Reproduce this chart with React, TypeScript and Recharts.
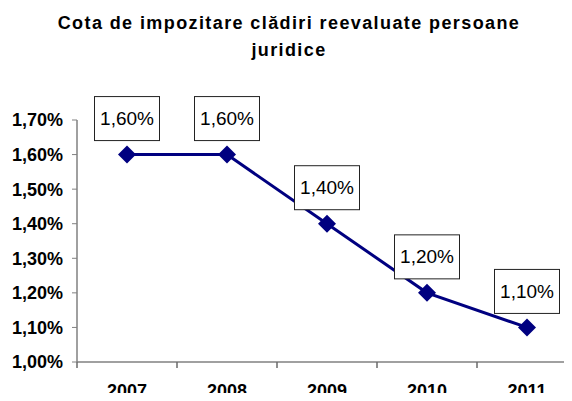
import { LabelList, Line, LineChart, XAxis, YAxis } from "recharts";

const YEARS = ["2007", "2008", "2009", "2010", "2011"];
const RATES = [1.6, 1.6, 1.4, 1.2, 1.1];
const Y_TICKS = [1.0, 1.1, 1.2, 1.3, 1.4, 1.5, 1.6, 1.7];
const TITLE_LINES = ["Cota de impozitare clădiri reevaluate persoane", "juridice"];

const FONT = '"Liberation Sans", Arial, sans-serif';
const NAVY = "#000080";
const AXIS_GREY = "#808080";
const HALF_BAND = 50;

const data = YEARS.map((year, i) => ({ year, rate: RATES[i] }));

function formatPct(value: number) {
  return value.toFixed(2).replace(".", ",") + "%";
}

function Diamond(props: any) {
  const { cx, cy } = props;
  if (cx == null || cy == null) return null;
  const r = 9;
  return (
    <polygon
      points={`${cx},${cy - r} ${cx + r},${cy} ${cx},${cy + r} ${cx - r},${cy}`}
      fill={NAVY}
    />
  );
}

function BoxLabel(props: any) {
  const { x, y, value } = props;
  if (x == null || y == null) return null;
  const w = 65;
  const h = 44;
  return (
    <g>
      <rect x={x - w / 2} y={y - 58} width={w} height={h} fill="#fff" stroke="#222" strokeWidth={1} />
      <text
        x={x}
        y={y - 36}
        textAnchor="middle"
        dominantBaseline="central"
        fontFamily={FONT}
        fontSize={19}
        fill="#000"
      >
        {formatPct(value)}
      </text>
    </g>
  );
}

// tick marks sit between categories, labels at the category centre
function YearTick(props: any) {
  const { x, y, payload } = props;
  return (
    <g>
      <line x1={x - HALF_BAND} x2={x - HALF_BAND} y1={y} y2={y + 6} stroke="#6a6a6a" strokeWidth={1.5} />
      <text
        x={x}
        y={y + 35}
        textAnchor="middle"
        fontFamily={FONT}
        fontSize={18}
        fontWeight="bold"
        fill="#000"
      >
        {payload.value}
      </text>
    </g>
  );
}

export default function App() {
  return (
    <div
      style={{
        position: "relative",
        width: 572,
        height: 401,
        overflow: "hidden",
        margin: -8,
        background: "#fff",
      }}
    >
      <div
        style={{
          position: "absolute",
          top: 10,
          left: 0,
          width: 572,
          paddingLeft: 6,
          boxSizing: "border-box",
          textAlign: "center",
          fontFamily: FONT,
          fontWeight: "bold",
          fontSize: 18,
          letterSpacing: 1.4,
          lineHeight: "27px",
          color: "#000",
          whiteSpace: "nowrap",
        }}
      >
        {TITLE_LINES.map((line) => (
          <div key={line}>{line}</div>
        ))}
      </div>
      <LineChart
        width={580}
        height={401}
        data={data}
        margin={{ top: 120, right: 3, bottom: 0, left: 0 }}
      >
        <XAxis
          dataKey="year"
          height={39}
          padding={{ left: HALF_BAND, right: HALF_BAND }}
          tickLine={false}
          tickSize={0}
          tickMargin={0}
          axisLine={{ stroke: AXIS_GREY, strokeWidth: 1.5 }}
          tick={<YearTick />}
        />
        <YAxis
          width={77}
          domain={[1.0, 1.7]}
          ticks={Y_TICKS}
          tickFormatter={formatPct}
          tickSize={5}
          tickMargin={9}
          axisLine={{ stroke: AXIS_GREY, strokeWidth: 1.5 }}
          tickLine={{ stroke: AXIS_GREY }}
          tick={{ fontFamily: FONT, fontSize: 18, fontWeight: "bold", fill: "#000" }}
        />
        <Line
          dataKey="rate"
          stroke={NAVY}
          strokeWidth={3}
          dot={<Diamond />}
          activeDot={false}
          isAnimationActive={false}
        >
          <LabelList dataKey="rate" content={<BoxLabel />} />
        </Line>
      </LineChart>
    </div>
  );
}
